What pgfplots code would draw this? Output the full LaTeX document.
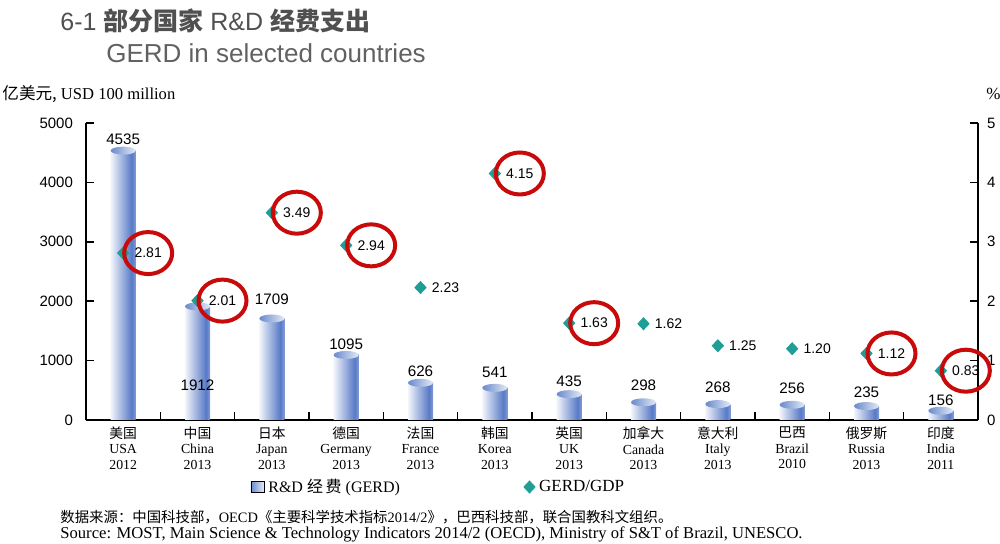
\documentclass[border=0pt]{standalone}
\usepackage{fontspec}
\setmainfont{Liberation Serif}
\setsansfont{Liberation Sans}
\newfontfamily\cjk{Noto Sans CJK SC}
\usepackage{pgfplots}
\usepackage{pgfplotstable}
\pgfplotsset{compat=1.18}
\usetikzlibrary{shapes.geometric}

\definecolor{barA}{RGB}{242,245,251}
\definecolor{barB}{RGB}{88,122,198}
\definecolor{barC}{RGB}{130,156,214}
\definecolor{capA}{RGB}{105,138,205}
\definecolor{capB}{RGB}{228,234,246}
\definecolor{gdpcol}{RGB}{30,158,148}
\definecolor{ring}{RGB}{200,10,10}
\definecolor{titlegray}{RGB}{80,80,80}
\pgfdeclarehorizontalshading{barshade}{100bp}{color(0bp)=(barA); color(25bp)=(barA); color(67bp)=(barB); color(75bp)=(barC); color(100bp)=(barC)}

% GERD, USD 100 million; dy = label offset (pt)
\pgfplotstableread{
x gerd dy
0 4535 2.6
1 1912 -42.5
2 1709 6.5
3 1095 2.3
4 626 2.8
5 541 4.8
6 435 3.6
7 298 5.6
8 268 5.3
9 256 5.2
10 235 3.8
11 156 2.2
}\gerd

% GERD/GDP, %; ring = circled in red
\pgfplotstableread{
x ratio ring
0 2.81 1
1 2.01 1
2 3.49 1
3 2.94 1
4 2.23 0
5 4.15 1
6 1.63 1
7 1.62 0
8 1.25 0
9 1.20 0
10 1.12 1
11 0.83 1
}\ratio

\pgfplotsset{
  common/.style={
    at={(43pt,62pt)}, anchor=south west,
    scale only axis, width=446pt, height=148.5pt,
    xmin=-0.5, xmax=11.5,
    axis line style={line width=0.8pt},
    tick align=inside, major tick length=4pt, minor tick length=4pt,
    tick style={black, line width=0.8pt},
    /pgf/number format/assume math mode=true,
    /pgf/number format/1000 sep={},
    clip=false,
  },
  cylbar/.style={ybar, bar width=12.5pt, bar shift=0pt, draw=none, shade, shading=barshade,
    nodes near coords,
    visualization depends on={\thisrow{dy} \as \dy},
    nodes near coords style={font=\sffamily\fontsize{7.6}{8}\selectfont, inner sep=0pt,
      anchor=south, yshift=\dy pt}},
}

\begin{document}
\begin{tikzpicture}
\path[use as bounding box] (0,0) rectangle (500pt,272pt);

\begin{axis}[
  common,
  ymin=0, ymax=5000,
  axis x line*=bottom, axis y line*=left,
  ytick={0,1000,...,5000},
  yticklabel style={font=\sffamily\fontsize{7.5}{9}\selectfont, xshift=-3pt},
  xtick={0,...,11},
  major x tick style={draw=none},
  minor xtick={0.5,1.5,...,10.5},
  xticklabels={
    {{\cjk 美国}\\USA\\2012},
    {{\cjk 中国}\\China\\2013},
    {{\cjk 日本}\\Japan\\2013},
    {{\cjk 德国}\\Germany\\2013},
    {{\cjk 法国}\\France\\2013},
    {{\cjk 韩国}\\Korea\\2013},
    {{\cjk 英国}\\UK\\2013},
    {{\cjk 加拿大}\\Canada\\2013},
    {{\cjk 意大利}\\Italy\\2013},
    {{\cjk 巴西}\\Brazil\\2010},
    {{\cjk 俄罗斯}\\Russia\\2013},
    {{\cjk 印度}\\India\\2011}},
  xticklabel style={align=center, font=\fontsize{6.9}{7.6}\selectfont, yshift=0pt},
]
% one plot per bar so each bar gets its own shading
\pgfplotsinvokeforeach{0,...,11}{
  \addplot[cylbar, restrict expr to domain={\coordindex}{#1:#1}]
    table[x=x, y=gerd] {\gerd};
}
\addplot[only marks, mark=none, nodes near coords={},
  every node near coord/.style={anchor=center, ellipse, inner sep=0pt,
    minimum width=12.5pt, minimum height=4pt, left color=capA, right color=capB, draw=none}]
  table[x=x, y=gerd] {\gerd};
\end{axis}

\begin{axis}[
  common,
  ymin=0, ymax=5,
  axis y line*=right, axis x line=none,
  ytick={0,...,5},
  yticklabel style={font=\sffamily\fontsize{7.5}{9}\selectfont, xshift=1pt},
  legend columns=2,
  legend style={at={(0.184,-0.2256)}, anchor=west, draw=none, fill=none, inner sep=0pt,
    font=\fontsize{8}{9}\selectfont,
    /tikz/every even column/.append style={column sep=60pt}},
]
\addlegendimage{legend image code/.code={\shade[left color=capA, right color=capB] (0pt,-2.8pt) rectangle (6.5pt,2.8pt);}}
\addlegendentry{R\&D {\cjk 经\,费} (GERD)}
\addplot[only marks, mark=diamond*, mark size=3pt, color=gdpcol,
  mark options={xscale=1.25, fill=gdpcol, draw=gdpcol},
  nodes near coords={\pgfmathprintnumber[fixed,fixed zerofill,precision=2]{\pgfplotspointmeta}},
  visualization depends on={\thisrow{ring} \as \ring},
  every node near coord/.style={anchor=center, xshift=12.5pt, text=black,
    font=\sffamily\fontsize{7}{8}\selectfont, ellipse, draw=ring, draw opacity=\ring,
    line width=2pt, minimum width=24pt, minimum height=21pt, inner sep=0.5pt}]
  table[x=x, y=ratio] {\ratio};
\addlegendentry{\fontsize{8.5}{9}\selectfont GERD/GDP}
\end{axis}

% titles and notes
\node[anchor=base west, inner sep=0pt, text=titlegray, font=\sffamily\fontsize{12.5}{14}\selectfont] at (30pt,256.5pt)
  {6-1 {\cjk\bfseries 部分国家} R\&D {\cjk\bfseries 经费支出}};
\node[anchor=base west, inner sep=0pt, text=titlegray!90, font=\sffamily\fontsize{13}{15}\selectfont] at (53pt,240.5pt)
  {GERD in selected countries};
\node[anchor=base west, inner sep=0pt, font=\fontsize{8.3}{10}\selectfont] at (1pt,222pt)
  {{\cjk 亿美元,} USD 100 million};
\node[anchor=base west, inner sep=0pt, font=\fontsize{8.5}{10}\selectfont] at (493pt,222pt) {\%};
\node[anchor=base west, inner sep=0pt, font=\fontsize{7.2}{9}\selectfont] at (30pt,10.5pt)
  {{\cjk 数据来源：中国科技部，}OECD{\cjk 《主要科学技术指标}2014/2{\cjk 》，巴西科技部，联合国教科文组织。}};
\node[anchor=base west, inner sep=0pt, font=\fontsize{8.3}{10}\selectfont] at (30pt,2.5pt)
  {Source: MOST, Main Science \& Technology Indicators 2014/2 (OECD), Ministry of S\&T of Brazil, UNESCO.};
\end{tikzpicture}
\end{document}
